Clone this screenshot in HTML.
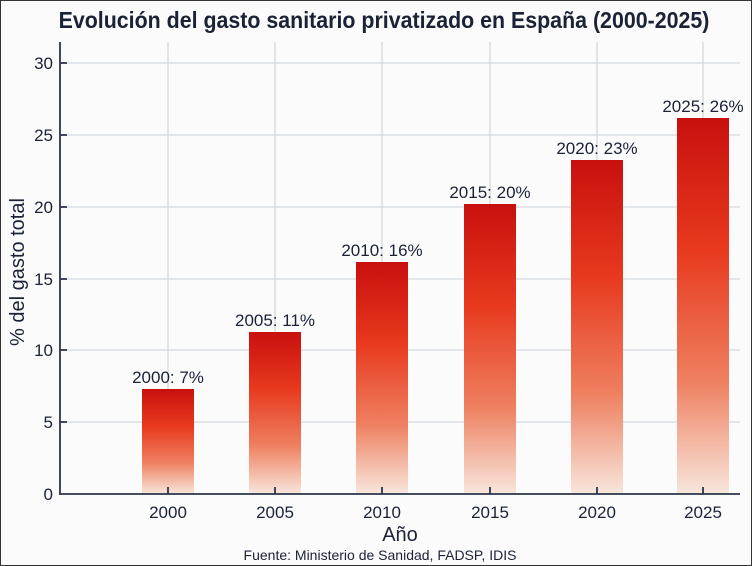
<!DOCTYPE html>
<html><head><meta charset="utf-8"><style>
body{margin:0;width:752px;height:566px;background:#fbfbfb;overflow:hidden}
svg{display:block;font-family:"Liberation Sans",sans-serif}
</style></head><body>
<svg width="752" height="566" viewBox="0 0 752 566">
<defs><linearGradient id="g" x1="0" y1="0" x2="0" y2="1">
<stop offset="0" stop-color="#c8100e"/><stop offset="0.35" stop-color="#e8391e"/><stop offset="0.7" stop-color="#ee8060"/><stop offset="1" stop-color="#f8e6dc"/></linearGradient></defs>
<rect x="0.5" y="0.5" width="751" height="565" fill="#fbfbfb" stroke="#333" stroke-width="1"/>
<text x="384" y="28" text-anchor="middle" font-size="23" font-weight="bold" fill="#1a2236" transform="translate(384 0) scale(0.93 1) translate(-384 0)">Evolución del gasto sanitario privatizado en España (2000-2025)</text>
<g stroke="#d4d8de" stroke-width="1.3">
<line x1="60" y1="63" x2="740" y2="63"/><line x1="60" y1="135" x2="740" y2="135"/><line x1="60" y1="207" x2="740" y2="207"/><line x1="60" y1="279" x2="740" y2="279"/><line x1="60" y1="350" x2="740" y2="350"/><line x1="60" y1="422" x2="740" y2="422"/>
<line x1="168" y1="42" x2="168" y2="494"/><line x1="275" y1="42" x2="275" y2="494"/><line x1="382" y1="42" x2="382" y2="494"/><line x1="490" y1="42" x2="490" y2="494"/><line x1="597" y1="42" x2="597" y2="494"/><line x1="703" y1="42" x2="703" y2="494"/>
</g>
<rect x="142" y="389" width="52" height="105" fill="url(#g)"/>
<rect x="249" y="332" width="52" height="162" fill="url(#g)"/>
<rect x="356" y="262" width="52" height="232" fill="url(#g)"/>
<rect x="464" y="204" width="52" height="290" fill="url(#g)"/>
<rect x="571" y="160" width="52" height="334" fill="url(#g)"/>
<rect x="677" y="118" width="52" height="376" fill="url(#g)"/>
<g stroke="#2a3548" stroke-width="1.8">
<line x1="60" y1="42" x2="60" y2="495"/><line x1="60" y1="494" x2="740" y2="494"/>
<line x1="60" y1="63" x2="67" y2="63"/><line x1="60" y1="135" x2="67" y2="135"/><line x1="60" y1="207" x2="67" y2="207"/><line x1="60" y1="279" x2="67" y2="279"/><line x1="60" y1="350" x2="67" y2="350"/><line x1="60" y1="422" x2="67" y2="422"/>
<line x1="168" y1="487" x2="168" y2="494"/><line x1="275" y1="487" x2="275" y2="494"/><line x1="382" y1="487" x2="382" y2="494"/><line x1="490" y1="487" x2="490" y2="494"/><line x1="597" y1="487" x2="597" y2="494"/><line x1="703" y1="487" x2="703" y2="494"/>
</g>
<g font-size="17" fill="#1a2236" text-anchor="middle">
<g text-anchor="end"><text x="53" y="69">30</text><text x="53" y="141">25</text><text x="53" y="213">20</text><text x="53" y="285">15</text><text x="53" y="356">10</text><text x="53" y="428">5</text><text x="53" y="500">0</text></g>
<text x="168" y="518">2000</text><text x="275" y="518">2005</text><text x="382" y="518">2010</text><text x="490" y="518">2015</text><text x="597" y="518">2020</text><text x="703" y="518">2025</text>
<text x="168" y="383">2000: 7%</text><text x="275" y="326">2005: 11%</text><text x="382" y="256">2010: 16%</text><text x="490" y="198">2015: 20%</text><text x="597" y="154">2020: 23%</text><text x="703" y="112">2025: 26%</text>
<text x="400" y="541" font-size="20">Año</text>
<text x="380" y="560" font-size="14">Fuente: Ministerio de Sanidad, FADSP, IDIS</text>
<text transform="translate(24 272) rotate(-90)" font-size="20">% del gasto total</text>
</g>
</svg>
</body></html>
